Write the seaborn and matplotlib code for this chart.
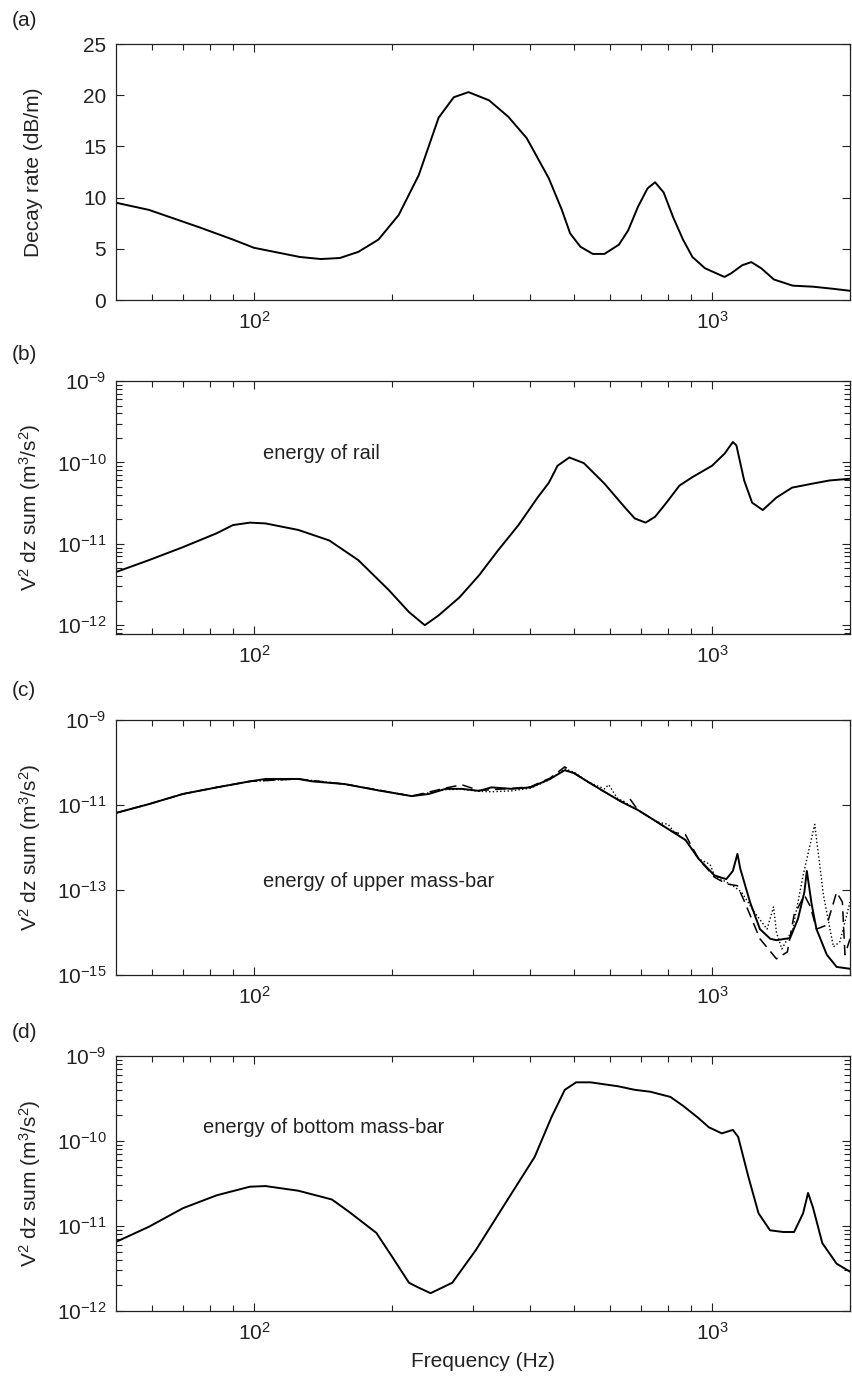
import numpy as np
import pandas as pd
import matplotlib
matplotlib.use("Agg")
import matplotlib.pyplot as plt
import matplotlib.ticker as mticker
import seaborn as sns

sns.set_style("ticks")
plt.rcParams["font.family"] = ["Liberation Sans", "DejaVu Sans"]
plt.rcParams["mathtext.fontset"] = "custom"
plt.rcParams["mathtext.rm"] = "Liberation Sans"
plt.rcParams["mathtext.it"] = "Liberation Sans"

# ── (a) decay rate ─────────────────────────────────────────
decay_freq = [50, 59, 76, 90, 100, 126, 140, 154, 169, 187, 207, 229, 253, 273, 294,
              326, 359, 394, 440, 470, 490, 516, 549, 582, 626, 656, 689, 723, 751,
              784, 822, 864, 906, 965, 1064, 1100, 1164, 1218, 1280, 1365, 1500,
              1660, 1833, 2000]
decay_rate = [9.5, 8.8, 7.1, 5.9, 5.1, 4.2, 4.0, 4.1, 4.7, 5.9, 8.3, 12.2, 17.8, 19.8,
              20.3, 19.5, 17.9, 15.8, 11.9, 8.8, 6.5, 5.2, 4.5, 4.5, 5.4, 6.8, 9.1,
              10.9, 11.5, 10.5, 8.1, 5.9, 4.2, 3.1, 2.25, 2.6, 3.4, 3.7, 3.1, 2.0,
              1.4, 1.3, 1.1, 0.9]

# ── (b) energy of rail ─────────────────────────────────────
rail_freq = [50, 59, 70, 83, 90, 98, 106, 125, 146, 169, 197, 218, 236, 253, 281,
             310, 341, 378, 416, 440, 460, 488, 525, 582, 645, 678, 716, 751, 795,
             849, 906, 1000, 1066, 1110, 1130, 1175, 1223, 1290, 1382, 1495, 1660,
             1804, 2000]
rail_energy = [4.5e-12, 6.3e-12, 9.1e-12, 1.35e-11, 1.7e-11, 1.82e-11, 1.78e-11,
               1.48e-11, 1.1e-11, 6.3e-12, 2.7e-12, 1.45e-12, 1.0e-12, 1.32e-12,
               2.2e-12, 4.1e-12, 8.3e-12, 1.7e-11, 3.7e-11, 5.6e-11, 9.1e-11,
               1.15e-10, 9.8e-11, 5.5e-11, 2.8e-11, 2.05e-11, 1.82e-11, 2.15e-11,
               3.2e-11, 5.2e-11, 6.6e-11, 9.1e-11, 1.29e-10, 1.78e-10, 1.62e-10,
               6.0e-11, 3.2e-11, 2.6e-11, 3.7e-11, 4.9e-11, 5.5e-11, 6.0e-11, 6.3e-11]

# ── (c) energy of upper mass-bar (three cases) ─────────────
upper_freq = [50, 59, 70, 83, 98, 106, 125, 134, 158, 187, 221, 241, 262, 284, 310,
              330, 365, 402, 443, 477, 500, 536, 582, 636, 689, 758, 822, 875, 935,
              1012, 1074, 1110, 1136, 1152, 1210, 1272, 1340, 1382, 1480, 1540, 1590,
              1610, 1650, 1690, 1780, 1870, 2000]
upper_solid = [6.5e-12, 1.05e-11, 1.82e-11, 2.6e-11, 3.6e-11, 4.1e-11, 4.1e-11,
               3.6e-11, 3.1e-11, 2.2e-11, 1.62e-11, 1.82e-11, 2.4e-11, 2.4e-11,
               2.15e-11, 2.6e-11, 2.4e-11, 2.6e-11, 4.1e-11, 6.6e-11, 5.6e-11,
               3.5e-11, 2.05e-11, 1.17e-11, 7.6e-12, 4.0e-12, 2.3e-12, 1.5e-12,
               5.4e-13, 2.2e-13, 1.8e-13, 2.8e-13, 7.1e-13, 3.2e-13, 5.2e-14,
               1.2e-14, 7.1e-15, 6.6e-15, 7.4e-15, 2.1e-14, 8.9e-14, 2.8e-13,
               4.5e-14, 1.2e-14, 3.0e-15, 1.55e-15, 1.4e-15]

dashed_freq = [50, 59, 70, 83, 98, 125, 158, 221, 262, 284, 310, 365, 402, 443, 477,
               500, 536, 582, 636, 662, 689, 758, 822, 875, 900, 935, 1012, 1074,
               1136, 1180, 1272, 1382, 1460, 1510, 1560, 1590, 1640, 1690, 1780,
               1870, 1925, 1950, 2000]
upper_dashed = [6.5e-12, 1.05e-11, 1.82e-11, 2.6e-11, 3.6e-11, 4.1e-11, 3.1e-11,
                1.62e-11, 2.5e-11, 3.0e-11, 2.2e-11, 2.45e-11, 2.7e-11, 4.3e-11,
                7.9e-11, 5.6e-11, 3.5e-11, 2.05e-11, 1.17e-11, 1.38e-11, 7.6e-12,
                4.0e-12, 2.3e-12, 2.0e-12, 1.12e-12, 5.4e-13, 2.0e-13, 1.4e-13,
                1.26e-13, 5.0e-14, 7.1e-15, 2.4e-15, 3.5e-15, 2.6e-14, 5.0e-14,
                7.6e-14, 4.0e-14, 1.2e-14, 1.5e-14, 8.9e-14, 5.2e-14, 3.0e-15, 7.1e-15]

dotted_freq = [50, 59, 70, 83, 98, 125, 158, 221, 262, 284, 310, 330, 365, 402, 443,
               477, 500, 536, 582, 595, 620, 689, 758, 802, 830, 875, 935, 990, 1012,
               1060, 1110, 1160, 1232, 1318, 1362, 1382, 1420, 1500, 1580, 1675,
               1750, 1840, 1900, 2000]
upper_dotted = [6.5e-12, 1.05e-11, 1.82e-11, 2.6e-11, 3.6e-11, 4.1e-11, 3.1e-11,
                1.62e-11, 2.3e-11, 2.35e-11, 2.1e-11, 2.05e-11, 2.15e-11, 2.5e-11,
                4.0e-11, 7.1e-11, 5.9e-11, 3.5e-11, 2.4e-11, 3.0e-11, 1.48e-11,
                7.6e-12, 4.0e-12, 3.5e-12, 2.2e-12, 1.5e-12, 5.4e-13, 4.0e-13,
                2.2e-13, 1.66e-13, 1.26e-13, 8.9e-14, 3.2e-14, 1.2e-14, 4.0e-14,
                1.0e-14, 4.1e-15, 1.2e-14, 2.2e-13, 3.5e-12, 7.6e-14, 4.6e-15,
                6.0e-15, 5.2e-14]

# ── (d) energy of bottom mass-bar ──────────────────────────
bottom_freq = [50, 59, 70, 83, 98, 106, 125, 148, 161, 185, 200, 218, 228, 243, 271,
               305, 354, 410, 446, 477, 505, 543, 624, 678, 733, 811, 864, 934, 984,
               1050, 1110, 1140, 1200, 1263, 1338, 1430, 1510, 1580, 1620, 1660,
               1740, 1870, 2000]
bottom_energy = [6.5e-12, 9.8e-12, 1.62e-11, 2.3e-11, 2.9e-11, 2.95e-11, 2.6e-11,
                 2.05e-11, 1.48e-11, 8.3e-12, 4.4e-12, 2.15e-12, 1.9e-12, 1.62e-12,
                 2.15e-12, 5.2e-12, 1.86e-11, 6.5e-11, 1.9e-10, 4.0e-10, 4.9e-10,
                 4.9e-10, 4.4e-10, 4.0e-10, 3.8e-10, 3.3e-10, 2.6e-10, 1.86e-10,
                 1.45e-10, 1.23e-10, 1.35e-10, 1.12e-10, 3.8e-11, 1.41e-11, 8.9e-12,
                 8.5e-12, 8.5e-12, 1.41e-11, 2.45e-11, 1.66e-11, 6.3e-12, 3.6e-12,
                 2.9e-12]

freq_ticks = [100, 1000]
freq_minor = [60, 70, 80, 90, 200, 300, 400, 500, 600, 700, 800, 900, 2000]
decay_ticks = [0, 5, 10, 15, 20, 25]
log3_ticks = [1e-12, 1e-11, 1e-10, 1e-9]
log3_minor = [m * 10.0 ** e for e in (-13, -12, -11, -10) for m in range(2, 10)]
upper_ticks = [1e-15, 1e-13, 1e-11, 1e-9]

W, H = 852, 1382
fig = plt.figure(figsize=(W / 100, H / 100), dpi=100)

LEFT, RIGHT = 116, 850
panels = [(44, 300), (381, 634), (720, 975), (1056, 1311)]
axes = []
for top, bot in panels:
    axes.append(fig.add_axes([LEFT / W, 1 - bot / H, (RIGHT - LEFT) / W, (bot - top) / H]))

FS = 15
INK = "#222222"
LW = 1.4
sns.lineplot(x=decay_freq, y=decay_rate, ax=axes[0], color="k", lw=LW, sort=False)
sns.lineplot(x=rail_freq, y=rail_energy, ax=axes[1], color="k", lw=LW, sort=False)
sns.lineplot(x=dotted_freq, y=upper_dotted, ax=axes[2], color="k", lw=1.0,
             linestyle=":", sort=False)
sns.lineplot(x=dashed_freq, y=upper_dashed, ax=axes[2], color="k", lw=1.1,
             linestyle=(0, (7, 4)), sort=False)
sns.lineplot(x=upper_freq, y=upper_solid, ax=axes[2], color="k", lw=LW, sort=False)
sns.lineplot(x=bottom_freq, y=bottom_energy, ax=axes[3], color="k", lw=LW, sort=False)

ylabel_log = r"V$^2$ dz sum (m$^3$/s$^2$)"
for ax in axes:
    ax.set_xscale("log")
    ax.set_xlim(50, 2000)
    ax.xaxis.set_major_locator(mticker.FixedLocator(freq_ticks))
    ax.xaxis.set_major_formatter(mticker.LogFormatterSciNotation())
    ax.xaxis.set_minor_locator(mticker.FixedLocator(freq_minor))
    ax.xaxis.set_minor_formatter(mticker.NullFormatter())
    ax.tick_params(which="both", direction="in", top=True, right=True,
                   labelsize=FS, width=0.8, colors=INK)
    ax.tick_params(which="major", length=6)
    ax.tick_params(which="minor", length=4)
    ax.tick_params(axis="y", pad=7)
    ax.tick_params(axis="x", pad=8)
    for sp in ax.spines.values():
        sp.set_linewidth(0.9)
        sp.set_color(INK)

axes[0].set_ylim(0, 25)
axes[0].yaxis.set_major_locator(mticker.FixedLocator(decay_ticks))
axes[0].set_ylabel("Decay rate (dB/m)", fontsize=FS, color=INK)

axes[1].set_yscale("log")
axes[1].set_ylim(7.8e-13, 1e-9)
axes[2].set_yscale("log")
axes[2].set_ylim(1e-15, 1e-9)
axes[2].yaxis.set_major_locator(mticker.FixedLocator(upper_ticks))
axes[2].yaxis.set_major_formatter(mticker.LogFormatterSciNotation())
axes[2].yaxis.set_minor_locator(mticker.NullLocator())
axes[3].set_yscale("log")
axes[3].set_ylim(1e-12, 1e-9)
for ax in (axes[1], axes[3]):
    ax.yaxis.set_major_locator(mticker.FixedLocator(log3_ticks))
    ax.yaxis.set_major_formatter(mticker.LogFormatterSciNotation())
    ax.yaxis.set_minor_locator(mticker.FixedLocator(log3_minor))
    ax.yaxis.set_minor_formatter(mticker.NullFormatter())
for ax in axes[1:]:
    ax.set_ylabel(ylabel_log, fontsize=FS, color=INK)
for ax in axes:
    ax.yaxis.set_label_coords(-0.1, 0.5)

axes[3].set_xlabel("Frequency (Hz)", fontsize=FS, color=INK, labelpad=6)

axes[1].text(0.2, 0.715, "energy of rail", transform=axes[1].transAxes,
             fontsize=14.5, va="center", ha="left", color=INK)
axes[2].text(0.2, 0.365, "energy of upper mass-bar", transform=axes[2].transAxes,
             fontsize=14.5, va="center", ha="left", color=INK)
axes[3].text(0.1185, 0.718, "energy of bottom mass-bar", transform=axes[3].transAxes,
             fontsize=14.5, va="center", ha="left", color=INK)

for lab, y in zip(["(a)", "(b)", "(c)", "(d)"], [20, 355, 690, 1033]):
    fig.text(12 / W, 1 - y / H, lab, fontsize=FS, va="center", ha="left", color=INK)

fig.savefig("out.png", dpi=100)
